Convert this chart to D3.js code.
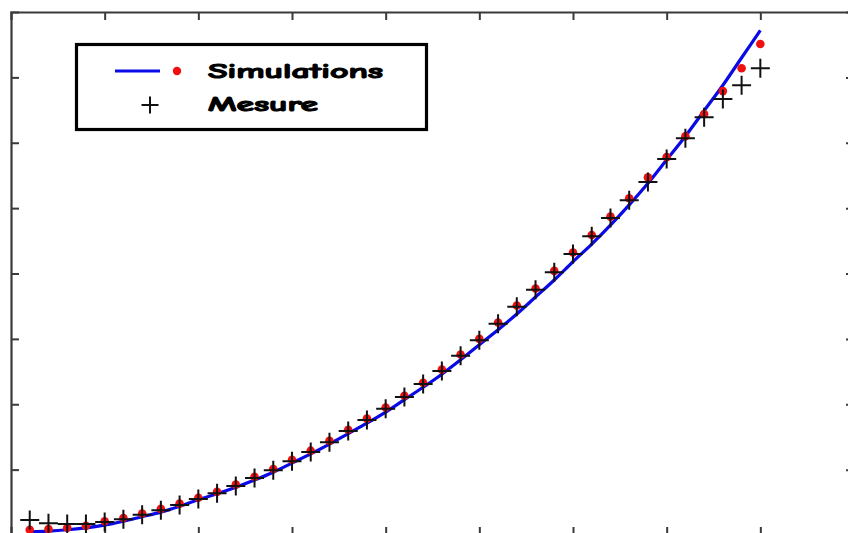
<!DOCTYPE html>
<html>
<head>
<meta charset="utf-8">
<script src="https://cdn.jsdelivr.net/npm/d3@7"></script>
<style>
  html, body { margin: 0; padding: 0; background: #fff; }
  svg { display: block; }
</style>
</head>
<body>
<div id="chart"></div>
<script>
// Sample positions (same grid for simulation and measurement)
const xs = [0.2, 0.4, 0.6, 0.8, 1.0, 1.2, 1.4, 1.6, 1.8, 2.0,
            2.2, 2.4, 2.6, 2.8, 3.0, 3.2, 3.4, 3.6, 3.8, 4.0,
            4.2, 4.4, 4.6, 4.8, 5.0, 5.2, 5.4, 5.6, 5.8, 6.0,
            6.2, 6.4, 6.6, 6.8, 7.0, 7.2, 7.4, 7.6, 7.8, 8.0];

// Simulated curve (blue line)
const simCurve = [0.05, 0.06, 0.08, 0.11, 0.15, 0.21, 0.28, 0.35, 0.44, 0.54,
                  0.63, 0.73, 0.84, 0.96, 1.10, 1.24, 1.39, 1.55, 1.71, 1.88,
                  2.07, 2.26, 2.46, 2.68, 2.91, 3.14, 3.38, 3.64, 3.90, 4.18,
                  4.45, 4.74, 5.05, 5.38, 5.74, 6.10, 6.49, 6.88, 7.30, 7.72];

// Simulated points (red dots)
const simPoints = [0.08, 0.09, 0.11, 0.14, 0.21, 0.26, 0.33, 0.40, 0.48, 0.57,
                   0.66, 0.77, 0.89, 1.01, 1.15, 1.29, 1.44, 1.61, 1.78, 1.95,
                   2.13, 2.33, 2.53, 2.76, 3.00, 3.25, 3.51, 3.77, 4.04, 4.32,
                   4.59, 4.87, 5.15, 5.47, 5.78, 6.10, 6.44, 6.79, 7.14, 7.51];

// Measured points (black crosses)
const measure = [0.23, 0.18, 0.17, 0.17, 0.20, 0.24, 0.31, 0.38, 0.46, 0.55,
                 0.64, 0.75, 0.87, 0.99, 1.13, 1.27, 1.42, 1.59, 1.76, 1.93,
                 2.11, 2.31, 2.51, 2.74, 2.98, 3.23, 3.49, 3.75, 4.02, 4.30,
                 4.57, 4.85, 5.12, 5.40, 5.75, 6.07, 6.39, 6.67, 6.88, 7.14];

const xTicks = [1, 2, 3, 4, 5, 6, 7, 8];
const yTicks = [1, 2, 3, 4, 5, 6, 7];
const legendLabels = ["Simulations", "Mesure"];

const W = 848, H = 533;
const plotLeft = 11, plotTop = 12, plotRight = 854, plotBottom = 535;

const svg = d3.select("#chart").append("svg")
  .attr("width", W).attr("height", H);

const x = d3.scaleLinear().domain([0, 9]).range([plotLeft, plotRight]);
const y = d3.scaleLinear().domain([0, 8]).range([plotBottom, plotTop]);

const axisColor = "#3a3a3a";
const tickLen = 8;

// Box axes with inward ticks on all four sides
const axes = svg.append("g").attr("class", "axes");
axes.append("g").attr("transform", `translate(0,${plotBottom})`)
  .call(d3.axisBottom(x).tickValues(xTicks).tickSize(-tickLen).tickFormat(""));
axes.append("g").attr("transform", `translate(0,${plotTop})`)
  .call(d3.axisTop(x).tickValues(xTicks).tickSize(-tickLen).tickFormat(""));
axes.append("g").attr("transform", `translate(${plotLeft},0)`)
  .call(d3.axisLeft(y).tickValues(yTicks).tickSize(-tickLen).tickFormat(""));
axes.append("g").attr("transform", `translate(${plotRight},0)`)
  .call(d3.axisRight(y).tickValues(yTicks).tickSize(-tickLen).tickFormat(""));
axes.selectAll(".domain").attr("stroke", axisColor).attr("stroke-width", 2.2);
axes.selectAll(".tick line").attr("stroke", axisColor).attr("stroke-width", 2);

// Simulation curve
const simData = xs.map((v, i) => [v, simCurve[i]]);
svg.append("path")
  .datum(simData)
  .attr("fill", "none")
  .attr("stroke", "#0a0ae6")
  .attr("stroke-width", 3.2)
  .attr("stroke-linejoin", "round")
  .attr("d", d3.line().x(d => x(d[0])).y(d => y(d[1])).curve(d3.curveMonotoneX));

// Simulation points
svg.append("g").selectAll("circle")
  .data(xs.map((v, i) => [v, simPoints[i]]))
  .join("circle")
  .attr("cx", d => x(d[0]))
  .attr("cy", d => y(d[1]))
  .attr("r", 4.3)
  .attr("fill", "#f01010");

// Measurement crosses
const crossPath = (cx, cy, s) => `M${cx - s},${cy}H${cx + s}M${cx},${cy - s}V${cy + s}`;
svg.append("g").selectAll("path")
  .data(xs.map((v, i) => [v, measure[i]]))
  .join("path")
  .attr("d", d => crossPath(x(d[0]), y(d[1]), 9.5))
  .attr("stroke", "#111")
  .attr("stroke-width", 2)
  .attr("fill", "none");

// Legend
const lg = svg.append("g").attr("class", "legend");
lg.append("rect")
  .attr("x", 76.5).attr("y", 44.5)
  .attr("width", 350).attr("height", 85)
  .attr("fill", "#fff")
  .attr("stroke", "#000")
  .attr("stroke-width", 3.2);
lg.append("line")
  .attr("x1", 115).attr("x2", 160).attr("y1", 71).attr("y2", 71)
  .attr("stroke", "#0a0ae6").attr("stroke-width", 3.2);
lg.append("circle")
  .attr("cx", 177).attr("cy", 71).attr("r", 4.2)
  .attr("fill", "#f01010");
lg.append("path")
  .attr("d", crossPath(150, 105, 8.5))
  .attr("stroke", "#111").attr("stroke-width", 2).attr("fill", "none");

const labelFont = "'Comic Sans MS', 'Comic Neue', 'DejaVu Sans', sans-serif";
lg.selectAll("text")
  .data(legendLabels)
  .join("text")
  .attr("x", 208)
  .attr("y", (d, i) => 78 + i * 33)
  .attr("font-family", labelFont)
  .attr("font-weight", "bold")
  .attr("font-size", 21)
  .attr("fill", "#000")
  .attr("stroke", "#000")
  .attr("stroke-width", 1.1)
  .attr("stroke-linejoin", "round")
  .attr("textLength", (d, i) => i === 0 ? 175 : 110)
  .attr("lengthAdjust", "spacingAndGlyphs")
  .text(d => d);
</script>
</body>
</html>
